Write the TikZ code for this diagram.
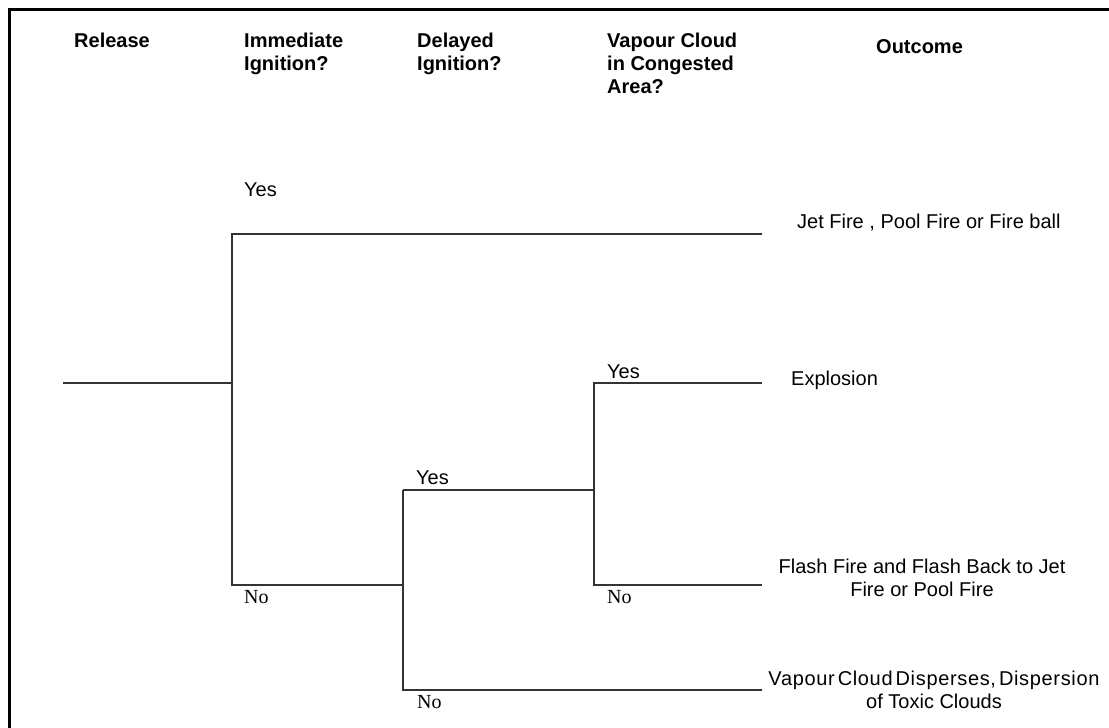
\documentclass[tikz,border=0pt]{standalone}
\usepackage{fontspec}
\setmainfont{Liberation Sans}
\newfontfamily\timesfont{Liberation Serif}
\begin{document}
\begin{tikzpicture}[x=1pt,y=-1pt,
  branch/.style={draw=black!80, line width=2pt},
  frame/.style={draw=black, line width=3pt},
  lbl/.style={inner sep=0pt, anchor=base west, font=\fontsize{20}{23}\selectfont},
  nolbl/.style={inner sep=0pt, anchor=base west, font=\timesfont\fontsize{20}{23}\selectfont},
  hdr/.style={inner sep=0pt, anchor=base west, align=left, font=\bfseries\fontsize{20}{23}\selectfont},
  outc/.style={inner sep=0pt, anchor=base, align=center, font=\fontsize{20}{23}\selectfont}]
\useasboundingbox (0,0) rectangle (1109,728);
% frame
\coordinate (fa) at (1109,9.5);
\coordinate (fb) at (9.5,9.5);
\coordinate (fc) at (9.5,728);
\draw[frame] (fa) -- (fb) -- (fc);
% tree points
\coordinate (r0) at (63,383);
\coordinate (n1) at (232,383);
\coordinate (n1y) at (232,234);
\coordinate (n1n) at (232,585);
\coordinate (n2) at (403,585);
\coordinate (n2y) at (403,490);
\coordinate (n2n) at (403,690);
\coordinate (n3) at (594,490);
\coordinate (n3y) at (594,383);
\coordinate (n3n) at (594,585);
\coordinate (e1) at (762,234);
\coordinate (e2) at (762,383);
\coordinate (e3) at (762,585);
\coordinate (e4) at (762,690);
\draw[branch] (r0) -- (n1);
\draw[branch] (e1) -- (n1y) -- (n1n) -- (n2);
\draw[branch] (n2y) -- (n2n) -- (e4);
\draw[branch] (n2y) -- (n3);
\draw[branch] (e2) -- (n3y) -- (n3n) -- (e3);
% headers (multi-line nodes are placed by their last baseline)
\node[hdr] (hrel) at (74,47) {Release};
\node[hdr] (himm) at (244,70) {Immediate\\Ignition?};
\node[hdr] (hdel) at (417,70) {Delayed\\Ignition?};
\node[hdr] (hvap) at (607,93) {Vapour Cloud\\in Congested\\Area?};
\node[hdr] (hout) at (876,53) {Outcome};
% branch labels
\node[lbl] (y1) at (244,196) {Yes};
\node[nolbl] (no1) at (244,603) {No};
\node[lbl] (y2) at (416,484) {Yes};
\node[nolbl] (no2) at (417,708) {No};
\node[lbl] (y3) at (607,378) {Yes};
\node[nolbl] (no3) at (607,603) {No};
% outcomes
\node[lbl] (o1) at (797,228) {Jet Fire , Pool Fire or Fire ball};
\node[lbl] (o2) at (791,385) {Explosion};
\node[outc] (o3) at (922,596) {Flash Fire and Flash Back to Jet\\Fire or Pool Fire};
\node[outc] (o4) at (934,708) {{\addfontfeature{LetterSpace=3.3}\spaceskip=3pt Vapour Cloud Disperses, Dispersion}\\of Toxic Clouds};
\end{tikzpicture}
\end{document}
